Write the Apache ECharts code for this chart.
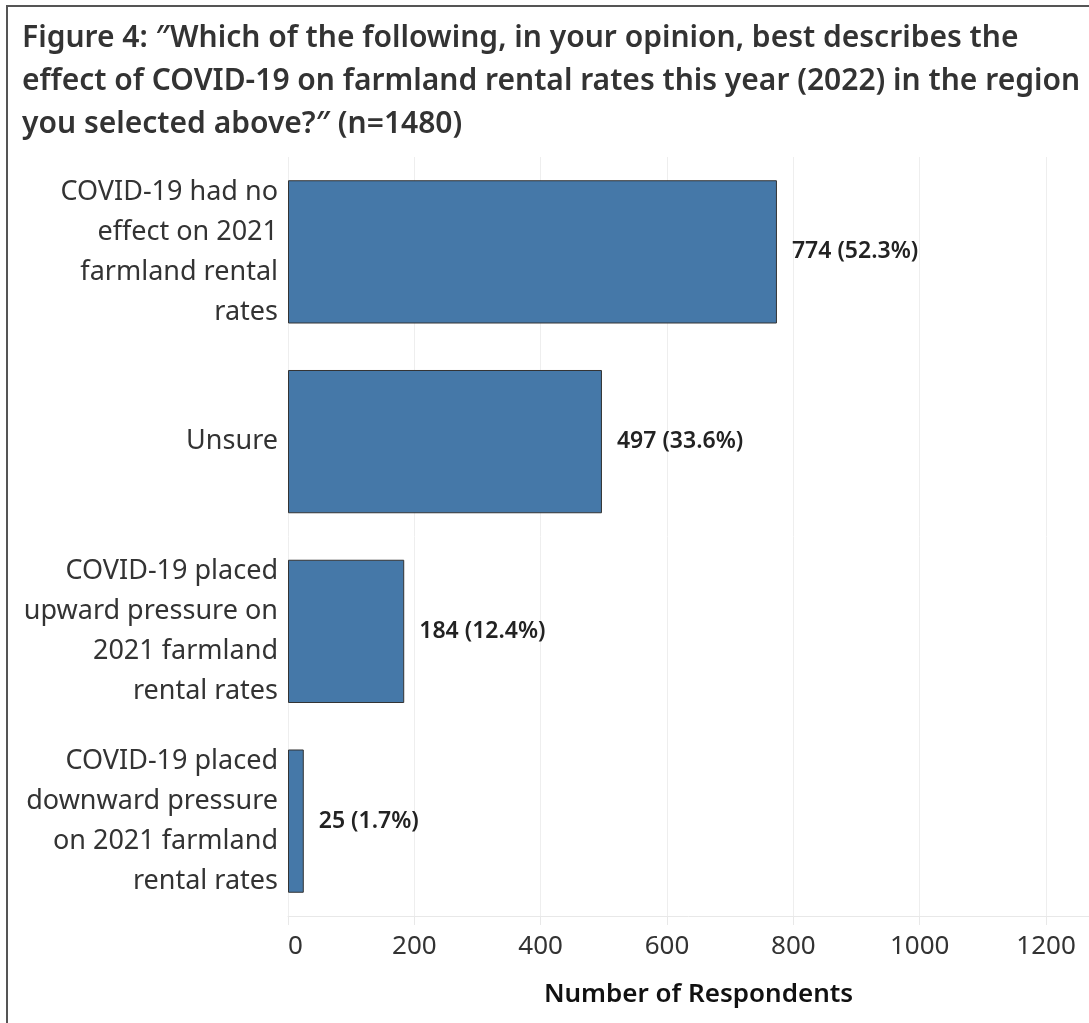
<!DOCTYPE html>
<html>
<head>
<meta charset="utf-8">
<script src="https://cdn.jsdelivr.net/npm/echarts@6/dist/echarts.min.js"></script>
<style>
html,body{margin:0;padding:0;background:#fff;}
#chart{width:1089px;height:1023px;}
</style>
</head>
<body>
<div id="chart"></div>
<script>
const titleText = 'Figure 4: \u2033Which of the following, in your opinion, best describes the\neffect of COVID-19 on farmland rental rates this year (2022) in the region\nyou selected above?\u2033 (n=1480)';
const categories = [
  'COVID-19 had no\neffect on 2021\nfarmland rental\nrates',
  'Unsure',
  'COVID-19 placed\nupward pressure on\n2021 farmland\nrental rates',
  'COVID-19 placed\ndownward pressure\non 2021 farmland\nrental rates'
];
const counts = [774, 497, 184, 25];
const percents = [52.3, 33.6, 12.4, 1.7];
const axisName = 'Number of Respondents';

const FONT = '"Noto Sans", "Open Sans", sans-serif';
const chart = echarts.init(document.getElementById('chart'), null, {renderer: 'canvas'});
chart.setOption({
  animation: false,
  backgroundColor: '#fff',
  title: {
    text: titleText,
    left: 22, top: 17, padding: 0,
    textStyle: {fontFamily: FONT, fontSize: 30, fontWeight: 600, color: '#333', lineHeight: 43}
  },
  graphic: [{
    type: 'rect', shape: {x: 7, y: 6, width: 1200, height: 1200},
    style: {fill: 'none', stroke: '#555', lineWidth: 2}, silent: true
  }],
  grid: {left: 288, right: 0, top: 157, bottom: 107, containLabel: false},
  xAxis: {
    type: 'value', min: 0, max: 1268, interval: 200,
    name: axisName, nameLocation: 'middle', nameGap: 66,
    nameTextStyle: {fontFamily: FONT, fontSize: 26, fontWeight: 600, color: '#111', padding: [0, 0, 0, 20]},
    axisLine: {show: true, lineStyle: {color: '#e8e8e8', width: 1}},
    axisTick: {show: true, length: 9, lineStyle: {color: '#e8e8e8'}},
    axisLabel: {fontFamily: FONT, fontSize: 26, color: '#333', margin: 18, showMaxLabel: false,
                alignMinLabel: 'left', formatter: v => String(v)},
    splitLine: {show: true, lineStyle: {color: '#eeeeee', width: 1}}
  },
  yAxis: {
    type: 'category', data: categories, inverse: true,
    axisLine: {show: false}, axisTick: {show: false},
    axisLabel: {fontFamily: FONT, fontSize: 27, color: '#333', lineHeight: 40, margin: 10, align: 'right'}
  },
  series: [{
    type: 'bar',
    data: counts,
    barCategoryGap: '24.5%',
    itemStyle: {color: '#4578a8', borderColor: '#333', borderWidth: 1},
    label: {
      show: true, position: 'right', distance: 15,
      fontFamily: FONT, fontSize: 23, fontWeight: 600, color: '#222',
      formatter: p => counts[p.dataIndex] + ' (' + percents[p.dataIndex].toFixed(1) + '%)'
    }
  }]
});
</script>
</body>
</html>
